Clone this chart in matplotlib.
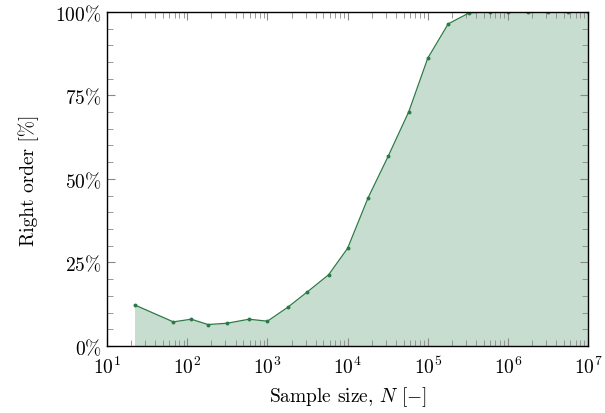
import numpy as np
import matplotlib.pyplot as plt
from matplotlib.ticker import FixedLocator, LogLocator, NullFormatter

plt.rcParams['font.family'] = ['cmr10', 'DejaVu Serif']
plt.rcParams['mathtext.fontset'] = 'cm'
plt.rcParams['axes.unicode_minus'] = False

# sample sizes and share of right order (%)
sample_size = [22, 67, 112, 182, 316, 590, 1000, 1800, 3160, 5800, 10000,
               18000, 32000, 58000, 100000, 180000, 330000, 590000,
               1000000, 1780000, 3160000, 5620000, 10000000]
right_order = [12.3, 7.2, 8.0, 6.4, 6.8, 8.0, 7.4, 11.6, 16.2, 21.3, 29.2,
               44.3, 56.7, 70.1, 86.1, 96.4, 99.7, 100, 100, 100, 100, 100, 100]
y_ticks = [0, 25, 50, 75, 100]
y_labels = [r'$0\%$', r'$25\%$', r'$50\%$', r'$75\%$', r'$100\%$']

line_c = '#2b7a45'
fill_c = '#c6ddd0'

fig = plt.figure(figsize=(6.05, 4.14), dpi=100)
ax = fig.add_axes([0.177, 0.162, 0.795, 0.807])

ax.fill_between(sample_size, 0, right_order, color=fill_c, lw=0)
ax.plot(sample_size, right_order, color=line_c, lw=0.9, marker='o', ms=1.8)

ax.set_xscale('log')
ax.set_xlim(10, 1e7)
ax.set_ylim(0, 100)
ax.set_yticks(y_ticks)
ax.set_yticklabels(y_labels)
ax.yaxis.set_minor_locator(FixedLocator(np.arange(0, 101, 5)))
ax.xaxis.set_minor_locator(LogLocator(base=10, subs=np.arange(2, 10), numticks=20))
ax.xaxis.set_minor_formatter(NullFormatter())

ax.tick_params(which='both', direction='in', top=True, right=True,
               color='#888888', labelsize=14)
ax.tick_params(which='major', length=6, width=0.8)
ax.tick_params(which='minor', length=4, width=0.6)
ax.tick_params(axis='x', pad=7)
ax.tick_params(axis='y', pad=4)

for s in ax.spines.values():
    s.set_linewidth(1.0)

ax.set_xlabel(r'Sample size, $N$ [$-$]', fontsize=14, labelpad=5)
ax.set_ylabel('Right order [%]', fontsize=14, labelpad=12)

fig.savefig('out.png', dpi=100)
